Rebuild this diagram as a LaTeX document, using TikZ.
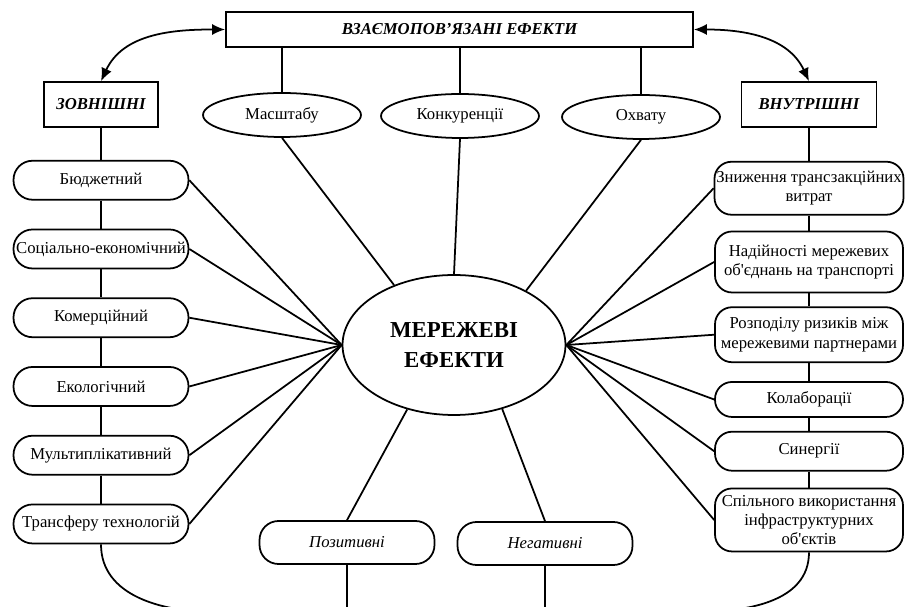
\documentclass[tikz,border=0pt]{standalone}
\usepackage{fontspec}
\setmainfont{Liberation Serif}[Ligatures=TeXOff]
\usetikzlibrary{positioning,arrows.meta,shapes.geometric}
\tikzset{
  head/.style={rectangle, draw=black, line width=1pt, inner sep=2pt, font=\bfseries\itshape\fontsize{9.5}{11}\selectfont},
  oval/.style={ellipse, draw=black, line width=1pt, inner sep=0pt, minimum width=3.16cm, minimum height=0.88cm, font=\fontsize{9.5}{11}\selectfont},
  core/.style={ellipse, draw=black, line width=1pt, inner sep=0pt, minimum width=4.46cm, minimum height=2.8cm, align=center, font=\bfseries\fontsize{13}{17}\selectfont},
  pill/.style={rectangle, rounded corners=0.38cm, draw=black, line width=1pt, inner sep=1pt, minimum width=3.5cm, minimum height=0.78cm, align=center, font=\fontsize{9.5}{11}\selectfont},
  wide/.style={minimum width=3.76cm, rounded corners=0.34cm},
  connect/.style={line width=1pt},
  twoway/.style={{Latex[length=2.6mm,width=2.2mm]}-{Latex[length=2.6mm,width=2.2mm]}, line width=1pt}
}
\begin{document}
\begin{tikzpicture}[x=0.02cm,y=-0.02cm]
    \useasboundingbox (0,0) rectangle (906,607);
    \clip (0,0) rectangle (906,607);

    % heads
    \node[head, minimum width=9.34cm, minimum height=0.7cm] (vz) at (459.5,29.5) {ВЗАЄМОПОВ’ЯЗАНІ ЕФЕКТИ};
    \node[head, minimum width=2.28cm, minimum height=0.9cm] (zov) at (101,104.5) {ЗОВНІШНІ};
    \node[head, minimum width=2.7cm, minimum height=0.9cm] (vnu) at (809,104.5) {ВНУТРІШНІ};

    \node[oval] (mas) at (282,115) {Масштабу};
    \node[oval] (kon) at (460,116) {Конкуренції};
    \node[oval] (ohv) at (641,117) {Охвату};

    \node[core] (me) at (454,345) {МЕРЕЖЕВІ\\ЕФЕКТИ};

    % left column
    \node[pill] (bud) [below=0.64cm of zov] {Бюджетний};
    \node[pill] (soc) [below=0.56cm of bud] {Соціально-економічний};
    \node[pill] (kom) [below=0.56cm of soc] {Комерційний};
    \node[pill] (eko) [below=0.56cm of kom] {Екологічний};
    \node[pill] (mul) [below=0.56cm of eko] {Мультиплікативний};
    \node[pill] (tra) [below=0.56cm of mul] {Трансферу технологій};

    % right column
    \node[pill,wide,minimum height=1.06cm] (zny) [below=0.66cm of vnu] {Зниження трансзакційних\\витрат};
    \node[pill,wide,minimum height=1.22cm] (nad) [below=0.3cm of zny] {Надійності мережевих\\об'єднань на транспорті};
    \node[pill,wide,minimum height=1.1cm] (roz) [below=0.26cm of nad] {Розподілу ризиків між\\мережевими партнерами};
    \node[pill,wide,minimum height=0.7cm] (kol) [below=0.36cm of roz] {Колаборації};
    \node[pill,wide,minimum height=0.78cm] (syn) [below=0.26cm of kol] {Синергії};
    \node[pill,wide,minimum height=1.26cm] (spi) [below=0.32cm of syn] {Спільного використання\\інфраструктурних\\об'єктів};

    % bottom
    \node[pill,minimum height=0.86cm,font=\itshape\fontsize{9.5}{11}\selectfont] (poz) at (347,542.5) {Позитивні};
    \node[pill,minimum height=0.86cm,font=\itshape\fontsize{9.5}{11}\selectfont] (neg) at (545,543.5) {Негативні};
    \coordinate (base) at (0,612);
    \coordinate (bl) at (215,612);
    \coordinate (br) at (695,612);

    \draw[twoway] (zov.north) to[out=65,in=180] (vz.west);
    \draw[twoway] (vz.east) to[out=0,in=115] (vnu.north);

    \foreach \a in {mas,kon,ohv}
        \draw[connect] (\a.north) -- (\a.north |- vz.south);
    \draw[connect] (mas.south) -- (me.135);
    \draw[connect] (kon.south) -- (me.north);
    \draw[connect] (ohv.south) -- (me.37);

    \draw[connect] (zov.south) -- (bud.north);
    \draw[connect] (vnu.south) -- (zny.north);
    \foreach \a/\b in {bud/soc,soc/kom,kom/eko,eko/mul,mul/tra,zny/nad,nad/roz,roz/kol,kol/syn,syn/spi}
        \draw[connect] (\a.south) -- (\b.north);

    \foreach \a in {bud,soc,kom,eko,mul,tra}
        \draw[connect] (\a.east) -- (me.west);
    \foreach \a in {zny,nad,roz,kol,syn,spi}
        \draw[connect] (\a.west) -- (me.east);

    \draw[connect] (me.234) -- (poz.north);
    \draw[connect] (me.307) -- (neg.north);
    \draw[connect] (poz.south) -- (poz.south |- base);
    \draw[connect] (neg.south) -- (neg.south |- base);
    \draw[connect] (tra.south) to[out=-90,in=180] (bl) -- (br) to[out=0,in=-90] (spi.south);
\end{tikzpicture}
\end{document}
